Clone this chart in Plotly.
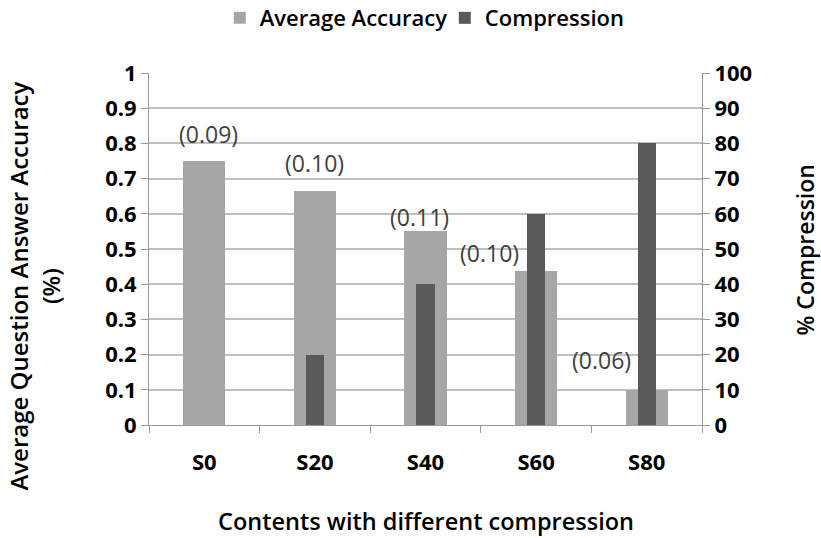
import plotly.graph_objects as go

categories = ["S0", "S20", "S40", "S60", "S80"]
accuracy = [0.75, 0.665, 0.552, 0.438, 0.10]
compression = [0, 20, 40, 60, 80]
std_labels = ["(0.09)", "(0.10)", "(0.11)", "(0.10)", "(0.06)"]
# label offsets (px) relative to the top of each accuracy bar
label_dx = [4, 0, -6, -47, -45]
label_dy = [27, 28, 14, 18, 30]

FONT = "Open Sans"
fig = go.Figure()
fig.add_trace(go.Bar(x=categories, y=accuracy, name="Average Accuracy",
                     marker=dict(color="#a6a6a6", line=dict(width=0)),
                     width=0.38, yaxis="y"))
fig.add_trace(go.Bar(x=categories, y=compression, name="Compression",
                     marker=dict(color="#595959", line=dict(width=0)),
                     width=0.165, yaxis="y2"))

for c, a, t, dx, dy in zip(categories, accuracy, std_labels, label_dx, label_dy):
    fig.add_annotation(x=c, y=a, text=t, showarrow=False, xshift=dx, yshift=dy,
                       xanchor="center", yanchor="middle",
                       font=dict(family=FONT, size=23, color="#404040"))

fig.add_annotation(xref="paper", yref="paper", x=-0.208, y=0.396,
                   xanchor="center", yanchor="middle",
                   text="Average Question Answer Accuracy<br>(%)",
                   textangle=-90, showarrow=False,
                   font=dict(family=FONT, size=24, color="black", weight=600))
fig.add_annotation(xref="paper", yref="paper", x=1.187, y=0.497,
                   xanchor="center", yanchor="middle",
                   text="% Compression", textangle=-90, showarrow=False,
                   font=dict(family=FONT, size=23, color="black", weight=600))
fig.add_annotation(xref="paper", yref="paper", x=0.5, y=-0.273,
                   xanchor="center", yanchor="middle",
                   text="Contents with different compression",
                   showarrow=False,
                   font=dict(family=FONT, size=23.5, color="black", weight=600))

fig.update_layout(
    width=821, height=538,
    margin=dict(l=149, r=119, t=73, b=113, autoexpand=False),
    paper_bgcolor="white", plot_bgcolor="white",
    barmode="overlay", bargap=0,
    showlegend=True,
    legend=dict(orientation="h", x=0.128, xanchor="left",
                yref="container", y=0.9665, yanchor="middle",
                entrywidth=180, entrywidthmode="pixels",
                font=dict(family=FONT, size=22, color="black", weight=600),
                itemwidth=30),
    xaxis=dict(type="category", tickson="boundaries", ticks="outside", ticklen=7,
               tickcolor="#999999", showline=True, linecolor="#999999", linewidth=1,
               showgrid=False, ticklabelstandoff=18,
               tickfont=dict(family=FONT, size=22, color="black", weight="bold")),
    yaxis=dict(range=[0, 1], dtick=0.1, tickformat="~g", ticks="outside", ticklen=7,
               tickcolor="#999999", showline=True, linecolor="#999999", linewidth=1,
               gridcolor="#bfbfbf", gridwidth=1.5, zeroline=False,
               tickfont=dict(family=FONT, size=22, color="black", weight="bold")),
    yaxis2=dict(range=[0, 100], dtick=10, overlaying="y", side="right",
                ticks="outside", ticklen=7, tickcolor="#999999",
                showline=True, linecolor="#999999", linewidth=1,
                showgrid=False, zeroline=False,
                tickfont=dict(family=FONT, size=22, color="black", weight="bold")),
)

fig.write_html("out.html")
